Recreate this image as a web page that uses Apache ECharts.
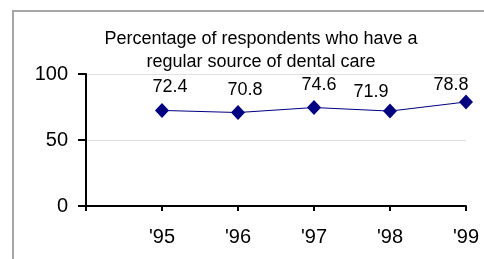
<!DOCTYPE html>
<html>
<head>
<meta charset="utf-8">
<script src="https://cdn.jsdelivr.net/npm/echarts@6/dist/echarts.min.js"></script>
<style>
  html, body { margin: 0; padding: 0; background: #fff; }
  #chart { width: 484px; height: 259px; }
</style>
</head>
<body>
<div id="chart"></div>
<script>
// chart data
const titleText = 'Percentage of respondents who have a\nregular source of dental care'
const years = ["'95", "'96", "'97", "'98", "'99"]
const values = [72.4, 70.8, 74.6, 71.9, 78.8]
const yTicks = [0, 50, 100]

// label nudges
const labelShift = [[8, -23], [7, -23], [5, -22], [-19, -19], [-15, -17]]

const font = '"Liberation Sans", Arial, sans-serif'
const navy = '#000080'

const chart = echarts.init(document.getElementById('chart'), null, { renderer: 'canvas' })

// first category is the empty slot at the y axis
const categories = [''].concat(years)
const seriesData = [null].concat(values.map((v, i) => ({
    value: v,
    label: { offset: labelShift[i] }
})))

const option = {
    animation: false,
    backgroundColor: '#fff',
    title: {
        text: titleText,
        left: 261,
        top: 28,
        padding: 0,
        textAlign: 'center',
        textStyle: {
            fontFamily: font,
            fontSize: 18,
            fontWeight: 'normal',
            color: '#000',
            lineHeight: 23
        }
    },
    graphic: [{
        type: 'rect',
        shape: { x: 13, y: 11, width: 520, height: 300 },
        style: { fill: 'none', stroke: '#a6a6a6', lineWidth: 2 },
        silent: true
    }],
    grid: { left: 86, right: 18, top: 74, bottom: 53 },
    xAxis: {
        type: 'category',
        data: categories,
        boundaryGap: false,
        axisLine: { lineStyle: { color: '#000', width: 2 } },
        axisTick: { show: true, length: 5, interval: 0, lineStyle: { color: '#000', width: 2 } },
        axisLabel: {
            interval: 0,
            margin: 21,
            fontFamily: font,
            fontSize: 20,
            color: '#000'
        },
        splitLine: { show: false }
    },
    yAxis: {
        type: 'value',
        min: yTicks[0],
        max: yTicks[yTicks.length - 1],
        interval: yTicks[1] - yTicks[0],
        axisLine: { show: true, lineStyle: { color: '#000', width: 2 } },
        axisTick: { show: true, length: 8, lineStyle: { color: '#000', width: 2 } },
        axisLabel: {
            margin: 18,
            fontFamily: font,
            fontSize: 20,
            color: '#000'
        },
        splitLine: { show: true, lineStyle: { color: '#e0e0e0', width: 1 } }
    },
    series: [{
        type: 'line',
        data: seriesData,
        symbol: 'diamond',
        symbolSize: [14, 15],
        lineStyle: { color: navy, width: 1 },
        itemStyle: { color: navy },
        label: {
            show: true,
            position: 'inside',
            fontFamily: font,
            fontSize: 18,
            color: '#000'
        }
    }]
}

chart.setOption(option)
</script>
</body>
</html>
